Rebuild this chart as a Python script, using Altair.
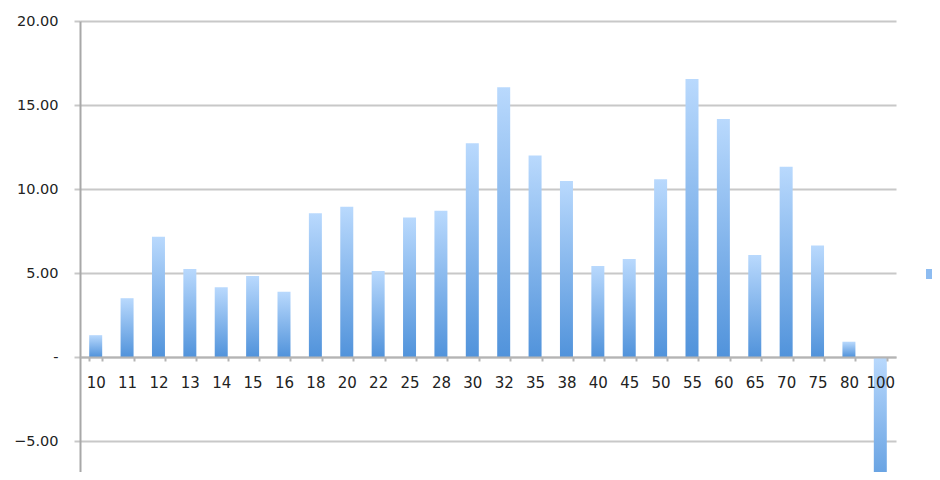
import altair as alt
import pandas as pd

categories = ["10", "11", "12", "13", "14", "15", "16", "18", "20", "22", "25", "28", "30",
              "32", "35", "38", "40", "45", "50", "55", "60", "65", "70", "75", "80", "100"]
values = [1.30, 3.50, 7.16, 5.24, 4.15, 4.82, 3.89, 8.55, 8.95, 5.12, 8.31, 8.71, 12.72,
          16.05, 12.00, 10.48, 5.42, 5.83, 10.58, 16.55, 14.17, 6.07, 11.33, 6.63, 0.91, -9.00]
series_name = "Series1"
y_ticks = [-5, 0, 5, 10, 15, 20]

df = pd.DataFrame({"cat": categories, "val": values, "series": series_name})

W, H = 816, 451
Y_MAX = 20.0
Y_MIN = Y_MAX - H / 16.8
x_offset = -H * (0 - Y_MIN) / (Y_MAX - Y_MIN)

grad = alt.Gradient(
    gradient="linear",
    stops=[alt.GradientStop(color="#b9d9fd", offset=0),
           alt.GradientStop(color="#5193db", offset=1)],
    x1=0, x2=0, y1=0, y2=1,
)

x_enc = alt.X(
    "cat:N", sort=categories, title=None,
    scale=alt.Scale(paddingInner=0.586, paddingOuter=0.293),
    axis=alt.Axis(
        orient="bottom", offset=x_offset, labelAngle=0, tickBand="extent",
        labelFont="DejaVu Sans", labelFontSize=15, labelColor="#222222",
        labelPadding=14, tickSize=4, tickWidth=2, tickColor="#b4b4b4",
        domainColor="#b4b4b4", domainWidth=2, grid=False, labelOverlap=False,
        zindex=1,
    ),
)
y_enc = alt.Y(
    "val:Q", title=None,
    scale=alt.Scale(domain=[Y_MIN, Y_MAX], nice=False, zero=False),
    axis=alt.Axis(
        values=y_ticks,
        labelExpr="datum.value == 0 ? '-' : format(datum.value, '.2f')",
        labelFont="DejaVu Sans", labelFontSize=14.5, labelColor="#222222",
        labelPadding=16, tickSize=6, tickWidth=2, tickColor="#c8c8c8",
        grid=True, gridColor="#c8c8c8", gridWidth=2,
        domainColor="#a8a8a8", domainWidth=2,
    ),
)

bars = alt.Chart(df).mark_bar(color=grad, clip=True).encode(x=x_enc, y=y_enc)

legend_layer = alt.Chart(df).mark_square(opacity=0, size=100).encode(
    x=alt.X("cat:N", sort=categories),
    y=alt.Y("val:Q"),
    color=alt.Color(
        "series:N", title=None,
        scale=alt.Scale(range=["#8dbcf1"]),
        legend=alt.Legend(
            orient="none", legendX=846, legendY=248, symbolType="square",
            symbolSize=100, symbolOpacity=1, symbolStrokeWidth=0, padding=0,
            labelExpr="''", labelFontSize=1,
        ),
    ),
)

chart = alt.layer(bars, legend_layer).properties(
    width=W, height=H,
    autosize=alt.AutoSizeParams(type="none"),
    padding={"left": 72, "top": 13, "right": 36, "bottom": 0},
).configure_view(stroke=None)

chart.save("out.html", embed_options={"renderer": "svg", "actions": False})
